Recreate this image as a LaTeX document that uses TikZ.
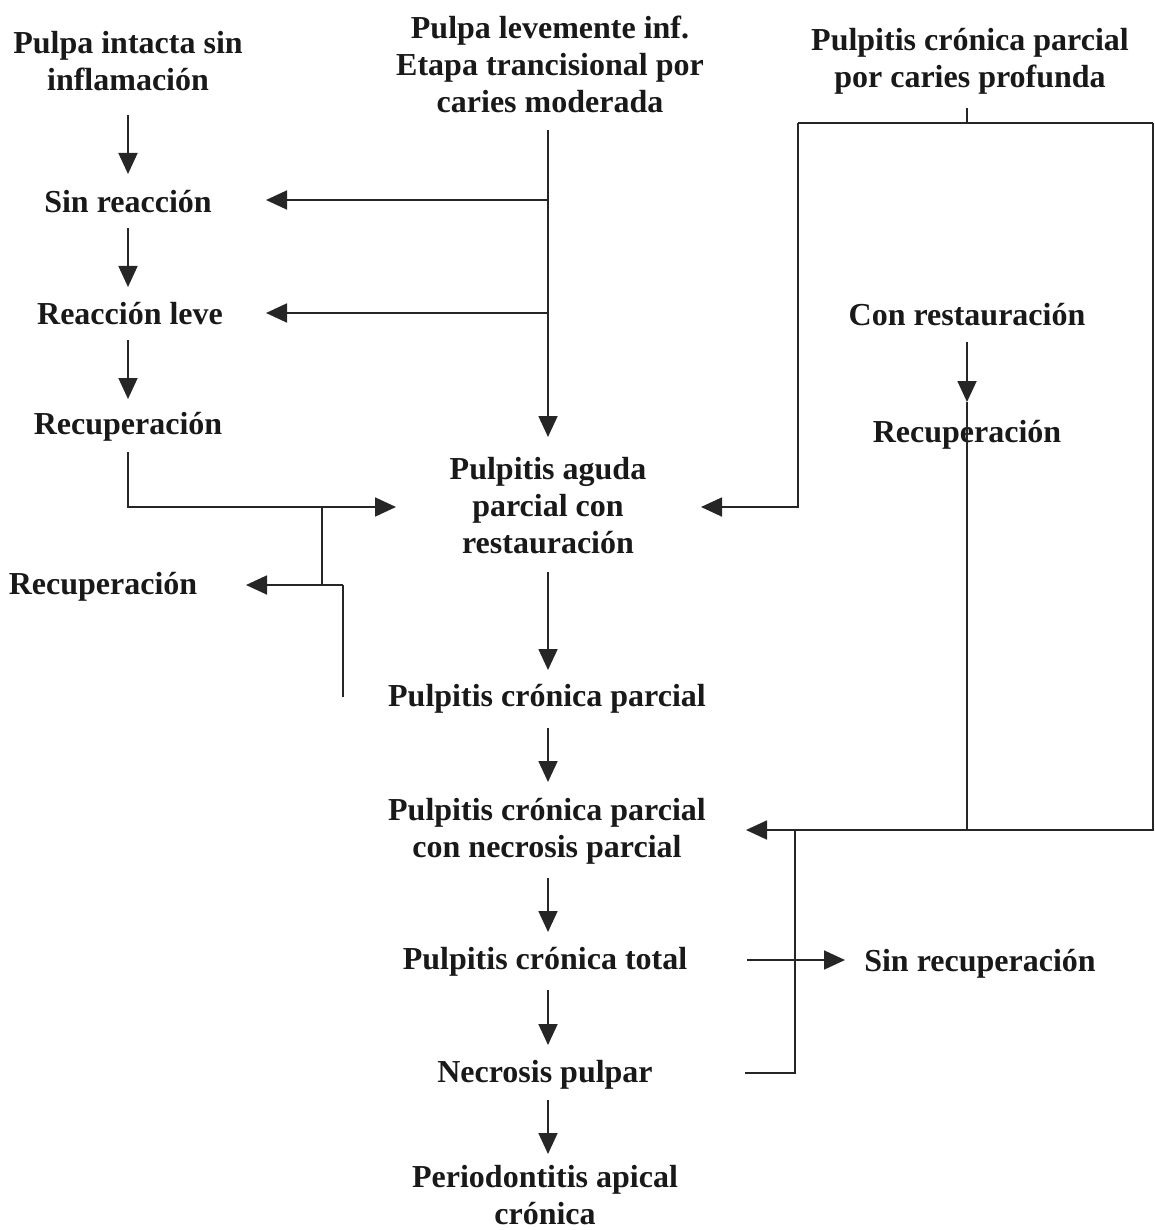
\documentclass[tikz,border=0pt]{standalone}
\usepackage{fontspec}
\setmainfont{Liberation Serif}
\usetikzlibrary{arrows.meta}
\begin{document}
\begin{tikzpicture}[x=1pt,y=-1pt,
  lbl/.style={align=center, inner sep=0pt, font=\fontsize{32}{37}\selectfont\bfseries, text=black!90},
  ln/.style={line width=1.8pt, draw=black!85},
  arr/.style={ln, -{Triangle[length=21pt,width=19pt]}}]
\useasboundingbox (0,0) rectangle (1155,1230);
% texts
\node[lbl] (intacta) at (128,61) {Pulpa intacta sin\\inflamación};
\node[lbl] (leve) at (550,64) {Pulpa levemente inf.\\Etapa trancisional por\\caries moderada};
\node[lbl] (profunda) at (970,61) {Pulpitis crónica parcial\\por caries profunda};
\node[lbl] (sinreac) at (128,202) {Sin reacción};
\node[lbl] (reacleve) at (130,314) {Reacción leve};
\node[lbl] (recup1) at (128,427) {Recuperación};
\node[lbl] (aguda) at (548,506) {Pulpitis aguda\\parcial con\\restauración};
\node[lbl] (recup2) at (103,587) {Recuperación};
\node[lbl] (conrest) at (967,315) {Con restauración};
\node[lbl] (recup3) at (967,435) {Recuperación};
\node[lbl] (cronpar) at (547,699) {Pulpitis crónica parcial};
\node[lbl] (necpar) at (547,831) {Pulpitis crónica parcial\\con necrosis parcial};
\node[lbl] (crontot) at (545,962) {Pulpitis crónica total};
\node[lbl] (sinrec) at (980,964) {Sin recuperación};
\node[lbl] (necrosis) at (545,1075) {Necrosis pulpar};
\node[lbl] (periodon) at (545,1195) {Periodontitis apical\\crónica};
% coordinates
\coordinate (l1a) at (128,115); \coordinate (l1b) at (128,174);
\coordinate (l2a) at (128,228); \coordinate (l2b) at (128,287);
\coordinate (l3a) at (128,340); \coordinate (l3b) at (128,399);
\coordinate (m0) at (548,130); \coordinate (m0b) at (548,437);
\coordinate (m200) at (548,200); \coordinate (t200) at (266,200);
\coordinate (m313) at (548,313); \coordinate (t313) at (266,313);
\coordinate (r1) at (128,452); \coordinate (r1c) at (128,507); \coordinate (r1t) at (396,507);
\coordinate (j1) at (322,507); \coordinate (j2) at (322,585); \coordinate (t585) at (246,585);
\coordinate (j3) at (343,585); \coordinate (j4) at (343,697);
\coordinate (ma1) at (548,572); \coordinate (mb1) at (548,670);
\coordinate (ma2) at (548,728); \coordinate (mb2) at (548,782);
\coordinate (ma3) at (548,878); \coordinate (mb3) at (548,932);
\coordinate (ma4) at (548,990); \coordinate (mb4) at (548,1045);
\coordinate (ma5) at (548,1100); \coordinate (mb5) at (548,1154);
\coordinate (p0) at (967,108); \coordinate (p1) at (967,123);
\coordinate (pl) at (798,123); \coordinate (pr) at (1153,123);
\coordinate (pl2) at (798,507); \coordinate (pt) at (701,507);
\coordinate (pr2) at (1153,830); \coordinate (nt) at (746,830);
\coordinate (c0) at (967,342); \coordinate (c1) at (967,402); \coordinate (c2) at (967,830);
\coordinate (n0) at (745,1073); \coordinate (n1) at (795,1073); \coordinate (n2) at (795,830);
\coordinate (s0) at (747,960); \coordinate (s1) at (845,960);
% left column
\draw[arr] (l1a) -- (l1b);
\draw[arr] (l2a) -- (l2b);
\draw[arr] (l3a) -- (l3b);
% middle trunk
\draw[arr] (m0) -- (m0b);
\draw[arr] (m200) -- (t200);
\draw[arr] (m313) -- (t313);
% recuperacion loop
\draw[arr] (r1) -- (r1c) -- (r1t);
\draw[ln] (j1) -- (j2);
\draw[arr] (j3) -- (t585);
\draw[ln] (j3) -- (j4);
% middle column
\draw[arr] (ma1) -- (mb1);
\draw[arr] (ma2) -- (mb2);
\draw[arr] (ma3) -- (mb3);
\draw[arr] (ma4) -- (mb4);
\draw[arr] (ma5) -- (mb5);
% right side
\draw[ln] (p0) -- (p1);
\draw[ln] (pr) -- (pl);
\draw[arr] (pl) -- (pl2) -- (pt);
\draw[arr] (pr) -- (pr2) -- (nt);
\draw[arr] (c0) -- (c1);
\draw[ln] (c1) -- (c2);
\draw[ln] (n0) -- (n1) -- (n2);
\draw[arr] (s0) -- (s1);
\end{tikzpicture}
\end{document}
